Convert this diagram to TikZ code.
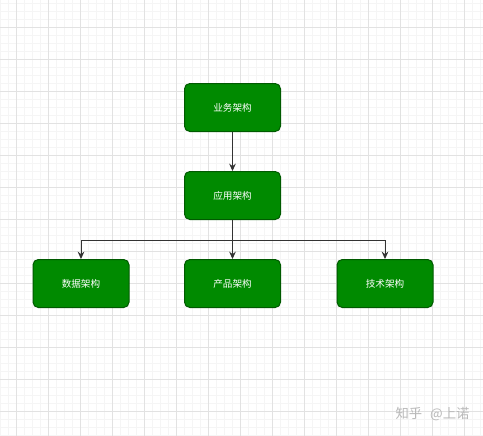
\documentclass[tikz,border=0pt]{standalone}
\usepackage{fontspec}
\newfontfamily\cjk{Noto Sans CJK SC}
\usetikzlibrary{arrows.meta}

\definecolor{boxfill}{RGB}{0,138,0}
\definecolor{boxline}{RGB}{0,90,0}
\definecolor{connline}{RGB}{51,51,51}
\definecolor{gridminor}{RGB}{245,245,245}
\definecolor{gridmajor}{RGB}{226,226,226}
\definecolor{markgray}{RGB}{185,185,185}

\tikzset{every picture/.style={line width=0.75pt}}
\tikzset{
  archbox/.style={draw=boxline, fill=boxfill, rounded corners=4pt,
    minimum width=72pt, minimum height=36pt, inner sep=0pt,
    text=white, font=\cjk\fontsize{7.2}{8}\selectfont},
  conn/.style={draw=connline, -{Stealth[length=5.5pt,width=5pt]}},
}

\begin{document}
\begin{tikzpicture}[x=0.75pt,y=0.75pt,yscale=-1,xscale=1]
\useasboundingbox (0,0) rectangle (483,436);
\fill[white] (0,0) rectangle (483,436);

%Grid
\foreach \gx in {0,8,...,480} \draw[gridminor] (\gx,0) -- (\gx,436);
\foreach \gy in {3,11,...,435} \draw[gridminor] (0,\gy) -- (483,\gy);
\foreach \gx in {16,48,...,480} \draw[gridmajor] (\gx,0) -- (\gx,436);
\foreach \gy in {27,59,...,435} \draw[gridmajor] (0,\gy) -- (483,\gy);

%Boxes
\node[archbox] (biz) at (232.5,107.5) {业务架构};
\node[archbox] (app) at (232.5,195.5) {应用架构};
\node[archbox] (data) at (81,283.5) {数据架构};
\node[archbox] (prod) at (232.5,283.5) {产品架构};
\node[archbox] (tech) at (385,283.5) {技术架构};

%Connectors
\coordinate (fork) at (232.5,240);
\draw[conn] (biz) -- (app);
\draw[connline] (app) -- (fork);
\draw[conn] (fork) -| (data);
\draw[conn] (fork) -- (prod);
\draw[conn] (fork) -| (tech);

% Text Node
\node[anchor=west, inner sep=0pt, text=markgray, font=\cjk\fontsize{10}{11}\selectfont] (mark) at (395,414.5) {知乎\hspace{6pt}@上诺};

\end{tikzpicture}
\end{document}
